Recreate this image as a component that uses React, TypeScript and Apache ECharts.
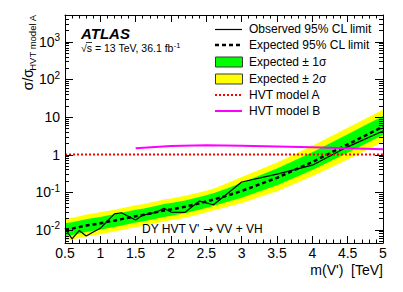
import React, { useEffect, useRef } from "react";
import * as echarts from "echarts";

// ---- data ----
const MASS = [0.5, 0.6, 0.7, 0.8, 0.9, 1.0, 1.1, 1.2, 1.3, 1.4, 1.5, 1.6, 1.7, 1.8, 1.9, 2.0, 2.2, 2.4, 2.6, 2.8, 3.0, 3.5, 4.0, 4.5, 5.0];
const EXPECTED = [0.01, 0.0107, 0.0117, 0.0129, 0.0138, 0.0148, 0.0162, 0.0174, 0.0191, 0.0209, 0.0229, 0.0245, 0.0269, 0.0295, 0.0324, 0.0347, 0.0407, 0.0501, 0.0631, 0.0813, 0.107, 0.24, 0.63, 1.86, 5.5];
const OBSERVED = [0.0109, 0.0057, 0.0095, 0.0068, 0.0087, 0.0109, 0.017, 0.0263, 0.0282, 0.0224, 0.0182, 0.0245, 0.0263, 0.0295, 0.037, 0.0295, 0.029, 0.0575, 0.046, 0.092, 0.186, 0.3, 0.52, 1.6, 4.2];
const PLUS1 = [0.0148, 0.0158, 0.0173, 0.0191, 0.0204, 0.0219, 0.024, 0.0257, 0.0282, 0.0309, 0.0339, 0.0362, 0.0398, 0.0436, 0.0479, 0.0513, 0.0602, 0.0741, 0.0933, 0.126, 0.178, 0.427, 1.15, 3.46, 10.5];
const PLUS2 = [0.0195, 0.0209, 0.0228, 0.0252, 0.0269, 0.0289, 0.0316, 0.0339, 0.0372, 0.0408, 0.0447, 0.0478, 0.0525, 0.0575, 0.0632, 0.0677, 0.0794, 0.0977, 0.123, 0.174, 0.251, 0.617, 1.7, 5.12, 15.5];
const MINUS1 = [0.00676, 0.00723, 0.00791, 0.00872, 0.00933, 0.01, 0.011, 0.0118, 0.0129, 0.0141, 0.0155, 0.0166, 0.0182, 0.0199, 0.0219, 0.0235, 0.0275, 0.0339, 0.0427, 0.055, 0.0707, 0.151, 0.389, 1.12, 3.32];
const MINUS2 = [0.00513, 0.00549, 0.006, 0.00662, 0.00708, 0.00759, 0.00831, 0.00893, 0.0098, 0.0107, 0.0117, 0.0126, 0.0138, 0.0151, 0.0166, 0.0178, 0.0209, 0.0257, 0.0324, 0.0407, 0.0512, 0.105, 0.263, 0.74, 2.19];
const HVT_A_MASS = [0.5, 5.0];
const HVT_A = [1, 1];
const HVT_B_MASS = [1.5, 2.0, 2.5, 3.0, 3.5, 4.0, 4.5, 5.0];
const HVT_B = [1.46, 1.68, 1.76, 1.72, 1.64, 1.55, 1.46, 1.37];
const X_MIN = 0.5;
const X_MAX = 5;
const X_STEP = 0.5;
const Y_MIN = 0.00443;
const Y_MAX = 5130;
const LEGEND_LABELS = ["Observed 95% CL limit", "Expected 95% CL limit", "Expected \u00b1 1\u03c3", "Expected \u00b1 2\u03c3", "HVT model A", "HVT model B"];

const FONT = "'Liberation Sans', Arial, Helvetica, sans-serif";

function pairs(xs: number[], ys: number[]) {
  return xs.map((x, i) => [x, ys[i]]);
}

function yTicks() {
  const out: number[][] = [];
  for (let k = -3; k <= 3; k++) {
    for (let j = 1; j <= 9; j++) {
      const v = j * Math.pow(10, k);
      if (v >= Y_MIN && v <= Y_MAX) out.push([X_MIN, v, j === 1 ? 1 : 0]);
    }
  }
  return out;
}

export default function App() {
  const ref = useRef<HTMLDivElement>(null);
  useEffect(() => {
    document.body.style.margin = "0";
    if (!ref.current) return;
    const chart = echarts.init(ref.current, undefined, { renderer: "svg" });
    const crisp = (v: number) => Math.round(v) + 0.5;
    const area = (data: number[], color: string) => ({
      type: "line",
      data: pairs(MASS, data),
      symbol: "none",
      lineStyle: { opacity: 0, width: 0 },
      areaStyle: { color, opacity: 1, origin: "start" },
      silent: true,
      z: 2,
    });
    const legendRowY = [29, 45, 62, 79, 95, 111];
    const lx1 = 215, lx2 = 242, ltx = 249;
    const graphics: any[] = [
      { type: "text", x: 81, y: 33, style: { text: "ATLAS", font: `italic bold 15px ${FONT}`, fill: "#000", textVerticalAlign: "middle" } },
      {
        type: "text", x: 81, y: 48,
        style: {
          text: "{n|\u221as = 13 TeV, 36.1 fb}{s|-1}",
          textVerticalAlign: "middle",
          rich: {
            n: { fontSize: 10.5, fontFamily: FONT, fill: "#000", lineHeight: 14 },
            s: { fontSize: 7.5, fontFamily: FONT, fill: "#000", verticalAlign: "top", lineHeight: 14 },
          },
        },
      },
      { type: "line", shape: { x1: 86, y1: 42.5, x2: 92, y2: 42.5 }, style: { stroke: "#000", lineWidth: 0.8 } },
      {
        type: "text", x: 142, y: 229,
        style: {
          text: "{n|DY HVT V' }{a|\u2192}{n| VV + VH}",
          textVerticalAlign: "middle",
          rich: {
            n: { fontSize: 12, fontFamily: FONT, fill: "#000", lineHeight: 15 },
            a: { fontSize: 12, fontFamily: "'DejaVu Sans', sans-serif", fill: "#000", lineHeight: 15 },
          },
        },
      },
      { type: "text", x: 383, y: 270, style: { text: "m(V')  [TeV]", font: `14px ${FONT}`, fill: "#000", textAlign: "right", textVerticalAlign: "middle" } },
      { type: "text", x: 27.5, y: 69, rotation: Math.PI / 2, style: { text: "\u03c3/\u03c3", font: `14px ${FONT}`, fill: "#000", textAlign: "right", textVerticalAlign: "middle" } },
      { type: "text", x: 32, y: 15, rotation: Math.PI / 2, style: { text: "HVT model A", font: `9.5px ${FONT}`, fill: "#000", textAlign: "right", textVerticalAlign: "middle" } },
      // legend
      { type: "line", shape: { x1: lx1, y1: legendRowY[0] + 0.5, x2: lx2, y2: legendRowY[0] + 0.5 }, style: { stroke: "#000", lineWidth: 1.2 } },
      { type: "line", shape: { x1: lx1, y1: legendRowY[1], x2: lx2, y2: legendRowY[1] }, style: { stroke: "#000", lineWidth: 2.5, lineDash: [4, 3] } },
      { type: "rect", shape: { x: lx1 + 0.5, y: legendRowY[2] - 5, width: lx2 - lx1, height: 10 }, style: { fill: "#00ff00", stroke: "#3a3a3a", lineWidth: 1 } },
      { type: "rect", shape: { x: lx1 + 0.5, y: legendRowY[3] - 5, width: lx2 - lx1, height: 10 }, style: { fill: "#ffff00", stroke: "#3a3a3a", lineWidth: 1 } },
      { type: "line", shape: { x1: lx1, y1: legendRowY[4], x2: lx2, y2: legendRowY[4] }, style: { stroke: "#ff0000", lineWidth: 2, lineDash: [2, 2] } },
      { type: "line", shape: { x1: lx1, y1: legendRowY[5], x2: lx2, y2: legendRowY[5] }, style: { stroke: "#ff00ff", lineWidth: 2 } },
      ...LEGEND_LABELS.map((t, i) => ({
        type: "text", x: ltx, y: legendRowY[i],
        style: { text: t, font: `12px ${FONT}`, fill: "#000", textVerticalAlign: "middle" },
      })),
    ].map((g) => ({ ...g, z: 100 }));
    const yLabel = (v: number) => {
      const l = Math.log10(v);
      const e = Math.round(l);
      if (Math.abs(l - e) > 1e-3) return "";
      if (e === 0) return "1";
      if (e === 1) return "10";
      return `{b|10}{s|${e}}`;
    };
    chart.setOption({
      animation: false,
      textStyle: { fontFamily: FONT },
      grid: { left: 65, top: 15, width: 318, height: 228, containLabel: false, outerBoundsMode: "none" },
      xAxis: [
        {
          type: "value", min: X_MIN, max: X_MAX, interval: X_STEP, position: "bottom", z: 10,
          axisLine: { show: true, onZero: false, lineStyle: { color: "#000", width: 1 } },
          axisTick: { show: true, inside: true, length: 7, lineStyle: { color: "#000" } },
          minorTick: { show: true, splitNumber: 5, length: 3.5, lineStyle: { color: "#000" } },
          splitLine: { show: false },
          axisLabel: { color: "#000", fontSize: 14, margin: 3, showMinLabel: true, showMaxLabel: true },
        },
        {
          type: "value", min: X_MIN, max: X_MAX, interval: X_STEP, position: "top", z: 10,
          axisLine: { show: true, onZero: false, lineStyle: { color: "#000", width: 1 } },
          axisTick: { show: true, inside: true, length: 7, lineStyle: { color: "#000" } },
          minorTick: { show: true, splitNumber: 5, length: 3.5, lineStyle: { color: "#000" } },
          splitLine: { show: false },
          axisLabel: { show: false },
        },
      ],
      yAxis: [
        {
          type: "log", min: Y_MIN, max: Y_MAX, position: "left", z: 10,
          axisLine: { show: true, onZero: false, lineStyle: { color: "#000", width: 1 } },
          axisTick: { show: false },
          splitLine: { show: false },
          axisLabel: {
            color: "#000", fontSize: 14, margin: 5, showMinLabel: false, showMaxLabel: false,
            formatter: yLabel,
            rich: {
              b: { fontSize: 14, color: "#000", lineHeight: 18, fontFamily: FONT },
              s: { fontSize: 10, color: "#000", verticalAlign: "top", lineHeight: 12, fontFamily: FONT },
            },
          },
        },
        {
          type: "log", min: Y_MIN, max: Y_MAX, position: "right", z: 10,
          axisLine: { show: true, onZero: false, lineStyle: { color: "#000", width: 1 } },
          axisTick: { show: false },
          splitLine: { show: false },
          axisLabel: { show: false },
        },
      ],
      graphic: graphics,
      series: [
        area(PLUS2, "#ffff00"),
        area(PLUS1, "#00ff00"),
        area(MINUS1, "#ffff00"),
        area(MINUS2, "#ffffff"),
        {
          type: "line", data: pairs(MASS, OBSERVED), symbol: "none", z: 4,
          lineStyle: { color: "#000", width: 1.2 },
        },
        {
          type: "line", data: pairs(MASS, EXPECTED), symbol: "none", z: 4,
          lineStyle: { color: "#000", width: 2.5, type: [4, 3] },
        },
        {
          type: "line", data: pairs(HVT_A_MASS, HVT_A), symbol: "none", z: 5,
          lineStyle: { color: "#ff0000", width: 2, type: [2, 2] },
        },
        {
          type: "line", data: pairs(HVT_B_MASS, HVT_B), symbol: "none", z: 5,
          lineStyle: { color: "#ff00ff", width: 2 },
        },
        {
          type: "custom", z: 10, silent: true,
          data: yTicks(),
          renderItem: (_p: any, api: any) => {
            const v = api.value(1);
            const major = api.value(2) === 1;
            const L = api.coord([X_MIN, v]);
            const R = api.coord([X_MAX, v]);
            const len = major ? 8 : 4;
            const y = crisp(L[1]);
            return {
              type: "group",
              children: [
                { type: "line", shape: { x1: L[0], y1: y, x2: L[0] + len, y2: y }, style: { stroke: "#000", lineWidth: 1 } },
                { type: "line", shape: { x1: R[0], y1: y, x2: R[0] - len, y2: y }, style: { stroke: "#000", lineWidth: 1 } },
              ],
            };
          },
        },
      ],
    });
    return () => chart.dispose();
  }, []);
  return <div ref={ref} style={{ width: 403, height: 292 }} />;
}
